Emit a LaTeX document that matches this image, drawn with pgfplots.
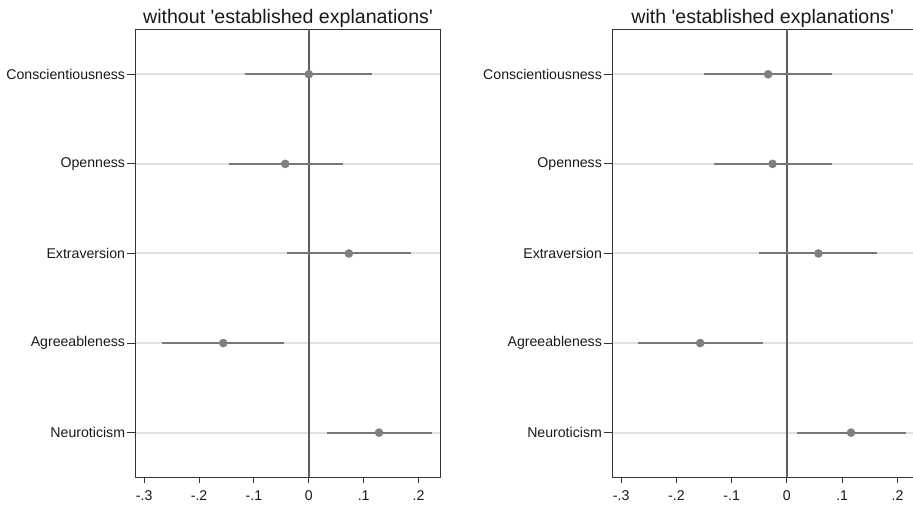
\documentclass[border=0pt]{standalone}
\usepackage{pgfplots}
\pgfplotsset{compat=1.18}
\usepackage{pgfplotstable}
\usepackage{fontspec}
\setmainfont{Liberation Sans}
\definecolor{cigray}{HTML}{777777}
\definecolor{ptgray}{HTML}{7F7F7F}
\definecolor{zerogray}{HTML}{5E5E5E}
\definecolor{gridgray}{HTML}{E1E1E1}
\definecolor{framegray}{HTML}{333333}

\pgfplotstableread{
y est lo hi
5 0.000 -0.117 0.116
4 -0.043 -0.146 0.062
3 0.073 -0.040 0.186
2 -0.156 -0.268 -0.046
1 0.128 0.033 0.224
}\leftdata

\pgfplotstableread{
y est lo hi
5 -0.034 -0.150 0.081
4 -0.026 -0.132 0.081
3 0.057 -0.050 0.163
2 -0.157 -0.270 -0.044
1 0.116 0.019 0.215
}\rightdata

\pgfplotsset{coefstyle/.style={
  scale only axis, height=336pt,
  ymin=0.5, ymax=5.5, xmin=-0.316,
  ytick={1,2,3,4,5},
  yticklabels={Neuroticism,Agreeableness,Extraversion,Openness,Conscientiousness},
  xtick={-0.3,-0.2,-0.1,0,0.1,0.2},
  xticklabels={-.3,-.2,-.1,0,.1,.2},
  tick align=outside, tick pos=left,
  ytick style={/pgfplots/major tick length=6pt},
  xtick style={/pgfplots/major tick length=4.5pt},
  major tick style={line width=0.75pt, color=framegray},
  ymajorgrids,
  grid style={line width=1.5pt, color=gridgray},
  axis line style={line width=0.75pt, color=framegray},
  ticklabel style={font=\fontsize{10.6}{12}\selectfont, text=black!90},
  xticklabel style={yshift=-2.3pt},
  title style={at={(0.5,1)}, anchor=base, yshift=-1.5pt, font=\fontsize{14.7}{17}\selectfont, text=black!90},
  clip=false,
}}

\begin{document}
\begin{tikzpicture}
\useasboundingbox (0,0) rectangle (684.75pt,381pt);
\begin{axis}[coefstyle, at={(101.6pt,22.9pt)}, anchor=south west, width=228.75pt, xmax=0.240,
  title={without \textquotesingle established explanations\textquotesingle}]
\addplot[zerogray, line width=1.5pt] coordinates {(0,0.5) (0,5.5)};
\addplot[only marks, mark=*, mark size=3pt, mark options={fill=ptgray, draw=ptgray},
  error bars/.cd, x dir=both, x explicit, error mark=none,
  error bar style={line width=1.5pt, color=cigray}]
  table[x=est, y=y, x error plus expr=\thisrow{hi}-\thisrow{est}, x error minus expr=\thisrow{est}-\thisrow{lo}] {\leftdata};
\end{axis}
\begin{axis}[coefstyle, at={(459.2pt,22.9pt)}, anchor=south west, width=225.5pt, xmax=0.228,
  separate axis lines, axis x line*=box, axis y line*=left,
  title={with \textquotesingle established explanations\textquotesingle}]
\addplot[zerogray, line width=1.5pt] coordinates {(0,0.5) (0,5.5)};
\addplot[only marks, mark=*, mark size=3pt, mark options={fill=ptgray, draw=ptgray},
  error bars/.cd, x dir=both, x explicit, error mark=none,
  error bar style={line width=1.5pt, color=cigray}]
  table[x=est, y=y, x error plus expr=\thisrow{hi}-\thisrow{est}, x error minus expr=\thisrow{est}-\thisrow{lo}] {\rightdata};
\end{axis}
\end{tikzpicture}
\end{document}
